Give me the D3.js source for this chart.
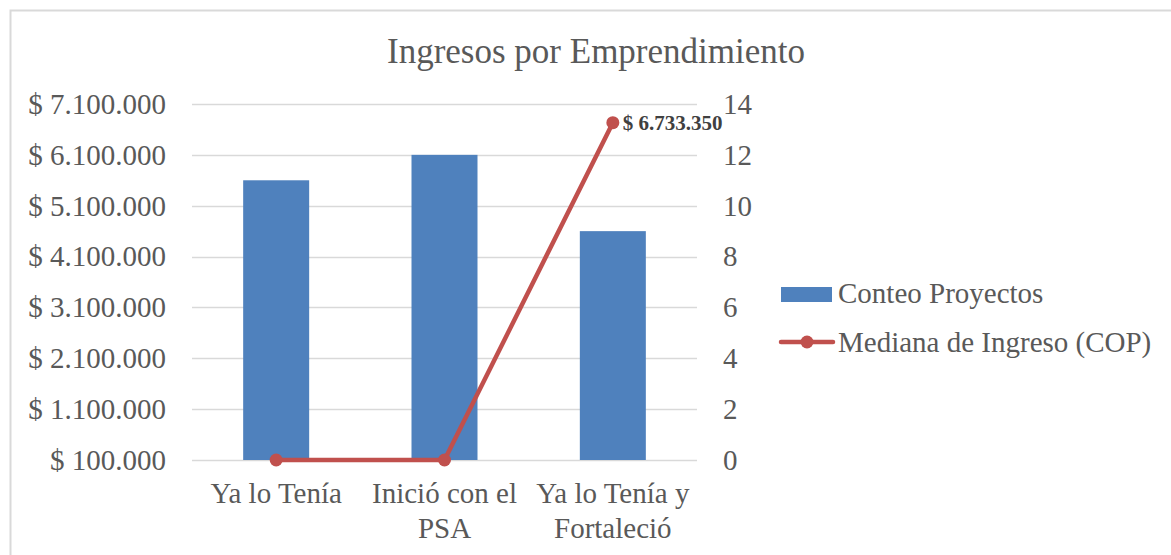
<!DOCTYPE html>
<html lang="es">
<head>
<meta charset="UTF-8" />
<title>Ingresos por Emprendimiento</title>
<style>
  body { margin: 0; background: #fff; }
  text { font-family: "Liberation Serif", "Times New Roman", serif; fill: #595959; }
</style>
</head>
<body>
<svg id="svg" width="1171" height="555"></svg>
<script src="https://d3js.org/d3.v7.min.js"></script>
<script>
// data
const categories = [['Ya lo Tenía'], ['Inició con el', 'PSA'], ['Ya lo Tenía y', 'Fortaleció']];
const conteo = [11, 12, 9];
const mediana = [100000, 100000, 6733350];
const leftTicks = [100000, 1100000, 2100000, 3100000, 4100000, 5100000, 6100000, 7100000];
const rightTicks = [0, 2, 4, 6, 8, 10, 12, 14];

const svg = d3.select('#svg');
const plotL = 192, plotR = 697, plotT = 104, plotB = 460;

// chart frame (only top/left edges visible in the crop)
svg.append('rect')
  .attr('x', 10.5).attr('y', 10.5)
  .attr('width', 1200).attr('height', 600)
  .attr('fill', 'none').attr('stroke', '#d9d9d9').attr('stroke-width', 2);

const xc = d3.scaleBand().domain(d3.range(categories.length)).range([plotL, plotR]);
const yL = d3.scaleLinear().domain([100000, 7100000]).range([plotB, plotT]);
const yR = d3.scaleLinear().domain([0, 14]).range([plotB, plotT]);
const cx = i => xc(i) + xc.bandwidth() / 2;

const fmt = d => '$ ' + d3.format(',')(d).replace(/,/g, '.');

// gridlines
svg.append('g').selectAll('line').data(leftTicks).enter().append('line')
  .attr('x1', plotL).attr('x2', plotR)
  .attr('y1', d => Math.round(yL(d)) + 0.5).attr('y2', d => Math.round(yL(d)) + 0.5)
  .attr('stroke', '#d9d9d9').attr('stroke-width', 1.5);

// left axis labels
svg.append('g').selectAll('text').data(leftTicks).enter().append('text')
  .attr('x', 166).attr('y', d => yL(d))
  .attr('dy', '0.34em').attr('text-anchor', 'end')
  .style('font-size', '29px')
  .text(fmt);

// right axis labels
svg.append('g').selectAll('text').data(rightTicks).enter().append('text')
  .attr('x', 723).attr('y', d => yR(d))
  .attr('dy', '0.34em').attr('text-anchor', 'start')
  .style('font-size', '29px')
  .text(d => d);

// bars
const bw = 66;
svg.append('g').selectAll('rect').data(conteo).enter().append('rect')
  .attr('x', (d, i) => cx(i) - bw / 2)
  .attr('width', bw)
  .attr('y', d => yR(d))
  .attr('height', d => yR(0) - yR(d))
  .attr('fill', '#4f81bd');

// category labels
const cat = svg.append('g').selectAll('text').data(categories).enter().append('text')
  .attr('x', (d, i) => cx(i))
  .attr('y', 503)
  .attr('text-anchor', 'middle')
  .style('font-size', '29px');
cat.selectAll('tspan').data(d => d).enter().append('tspan')
  .attr('x', function () { return this.parentNode.getAttribute('x'); })
  .attr('dy', (d, i) => i === 0 ? 0 : 35)
  .text(d => d);

// line
const line = d3.line().x((d, i) => cx(i)).y(d => yL(d));
svg.append('path').datum(mediana)
  .attr('d', line)
  .attr('fill', 'none').attr('stroke', '#c0504d').attr('stroke-width', 4.5)
  .attr('stroke-linejoin', 'round');
svg.append('g').selectAll('circle').data(mediana).enter().append('circle')
  .attr('cx', (d, i) => cx(i))
  .attr('cy', d => yL(d))
  .attr('r', 6.5)
  .attr('fill', '#c0504d');

// data label on last point
svg.append('text')
  .attr('x', cx(2) + 10)
  .attr('y', yL(mediana[2]))
  .attr('dy', '0.34em')
  .style('font-size', '21px').style('font-weight', 'bold').style('fill', '#404040')
  .text(fmt(mediana[2]));

// title
svg.append('text')
  .attr('x', 596).attr('y', 63)
  .attr('text-anchor', 'middle')
  .style('font-size', '35px')
  .text('Ingresos por Emprendimiento');

// legend
const lg = svg.append('g');
lg.append('rect').attr('x', 781).attr('y', 287).attr('width', 51).attr('height', 15).attr('fill', '#4f81bd');
lg.append('text').attr('x', 838).attr('y', 303).style('font-size', '29px').text('Conteo Proyectos');
lg.append('line').attr('x1', 781).attr('x2', 833).attr('y1', 342).attr('y2', 342)
  .attr('stroke', '#c0504d').attr('stroke-width', 4.5).attr('stroke-linecap', 'round');
lg.append('circle').attr('cx', 807).attr('cy', 342).attr('r', 6.5).attr('fill', '#c0504d');
lg.append('text').attr('x', 838).attr('y', 352).style('font-size', '29px').text('Mediana de Ingreso (COP)');
</script>
</body>
</html>
